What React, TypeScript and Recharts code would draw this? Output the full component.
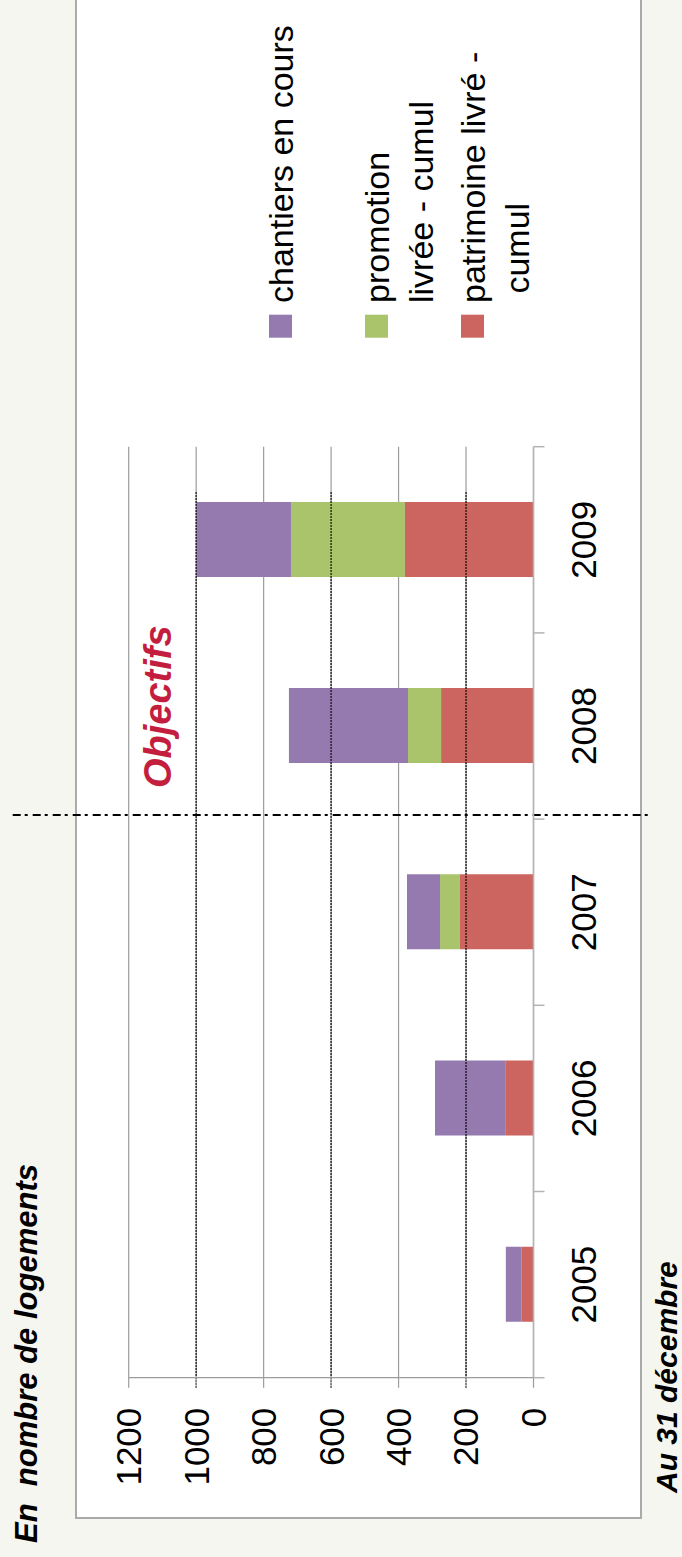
import React from 'react';
import {
    BarChart,
    Bar,
    XAxis,
    YAxis,
    CartesianGrid,
    ReferenceLine
} from 'recharts';

// Chart is drawn "upright" then turned a quarter turn to the left
const W = 1557;
const H = 682;
const FONT = '"Liberation Sans", Arial, Helvetica, sans-serif';

const years = ['2005', '2006', '2007', '2008', '2009'];
const patrimoine = [35, 82, 218, 274, 381];
const promotion = [0, 0, 59, 98, 338];
const chantiers = [47, 210, 98, 353, 281];
const valueTicks = [0, 200, 400, 600, 800, 1000, 1200];
const objectiveLevels = [200, 600, 1000];
const objectiveStartYear = '2007';

const seriesKeys = ['patrimoine', 'promotion', 'chantiers'];
const seriesColors = ['#CC6560', '#A9C46B', '#947AAF'];
const seriesLabels = [
    ['patrimoine livré -', ' cumul'],
    ['promotion', 'livrée - cumul'],
    ['chantiers en cours']
];

const data = years.map((year, i) => ({
    year,
    patrimoine: patrimoine[i],
    promotion: promotion[i],
    chantiers: chantiers[i]
}));

const margin = { top: 128.7, right: 446.7, bottom: 48.5, left: 0 };
const Y_AXIS_W = 179.3;
const BAND = (W - margin.left - margin.right - Y_AXIS_W) / years.length;

const CategoryTick = (props: any) => {
    const { x, y, payload, index } = props;
    const half = BAND / 2;
    const axisY = y - 27 - 11;
    return (
        <g>
            <line x1={x - half} x2={x - half} y1={axisY} y2={axisY + 11} stroke="#b3b3b3" strokeWidth={1.5} />
            {index === years.length - 1 && (
                <line x1={x + half} x2={x + half} y1={axisY} y2={axisY + 11} stroke="#b3b3b3" strokeWidth={1.5} />
            )}
            <text x={x} y={y} dy="0.71em" textAnchor="middle" fontSize={35} fill="#000" fontFamily={FONT}>
                {payload.value}
            </text>
        </g>
    );
};

const DottedLine = (props: any) => (
    <line x1={Math.min(props.x1, props.x2) - 10} x2={Math.max(props.x1, props.x2) - 45} y1={props.y1} y2={props.y2}
        stroke="#000" strokeWidth={1.5} strokeDasharray="1.5 1.5" />
);

const DashDotLine = (props: any) => {
    const top = Math.min(props.y1, props.y2);
    const bottom = Math.max(props.y1, props.y2);
    return (
        <line x1={props.x1 + 4} x2={props.x2 + 4} y1={top - 116} y2={bottom + 116}
            stroke="#000" strokeWidth={2} strokeDasharray="8 4 3 5" />
    );
};

const App: React.FC = () => {
    const legendOrder = [2, 1, 0];
    return (
        <div style={{ position: 'absolute', left: 0, top: 0, width: 682, height: 1557, overflow: 'hidden', background: '#f6f6f0' }}>
            <div style={{
                position: 'absolute', left: 0, top: 0, width: W, height: H,
                transformOrigin: '0 0', transform: `translateY(${W}px) rotate(-90deg)`, fontFamily: FONT
            }}>
                {/* white frame */}
                <div style={{
                    position: 'absolute', left: 38, top: 75, width: 1600, height: 567,
                    boxSizing: 'border-box', border: '2px solid #aaaaaa', background: '#fff'
                }} />

                <div style={{ position: 'absolute', left: 0, top: 0 }}>
                    <BarChart width={W} height={H} data={data} margin={margin}>
                        <CartesianGrid vertical={false} stroke="#9c9c9c" strokeWidth={1.2} />
                        <XAxis
                            dataKey="year"
                            height={100}
                            interval={0}
                            tickLine={false}
                            tickSize={11}
                            tickMargin={27}
                            axisLine={{ stroke: '#b3b3b3', strokeWidth: 1.5 }}
                            tick={<CategoryTick />}
                        />
                        <YAxis
                            width={Y_AXIS_W}
                            domain={[0, 1200]}
                            ticks={valueTicks}
                            interval={0}
                            tickSize={10}
                            tickMargin={20}
                            axisLine={{ stroke: '#9c9c9c', strokeWidth: 1.2 }}
                            tickLine={{ stroke: '#9c9c9c', strokeWidth: 1.2 }}
                            tick={{ fontSize: 35, fill: '#000', fontFamily: FONT }}
                        />
                        {seriesKeys.map((key, i) => (
                            <Bar key={key} dataKey={key} stackId="a" fill={seriesColors[i]} barSize={75} isAnimationActive={false} />
                        ))}
                        {objectiveLevels.map((level) => (
                            <ReferenceLine key={level} y={level} shape={<DottedLine />} />
                        ))}
                        <ReferenceLine x={objectiveStartYear} position="end" ifOverflow="visible" shape={<DashDotLine />} />
                    </BarChart>
                </div>

                <svg width={W} height={H} style={{ position: 'absolute', left: 0, top: 0, pointerEvents: 'none' }}>
                    <text x={14} y={36.5} fontSize={31} fontWeight="bold" fontStyle="italic" fill="#000" style={{ whiteSpace: 'pre' }}>
                        En  nombre de logements
                    </text>
                    <text x={64} y={677} fontSize={30} fontWeight="bold" fontStyle="italic" fill="#000">
                        Au 31 décembre
                    </text>
                    <text x={769} y={171} fontSize={38} fontWeight="bold" fontStyle="italic" fill="#C41E3F">
                        Objectifs
                    </text>
                    {legendOrder.map((s, row) => {
                        const top = 269 + row * 96;
                        return (
                            <g key={seriesKeys[s]}>
                                <rect x={1219.3} y={top} width={23} height={23} fill={seriesColors[s]} />
                                {seriesLabels[s].map((line, li) => (
                                    <text key={li} x={1254} y={top + 24 + li * 44} fontSize={34} fill="#000" style={{ whiteSpace: 'pre' }}>
                                        {line}
                                    </text>
                                ))}
                            </g>
                        );
                    })}
                </svg>
            </div>
        </div>
    );
};

export default App;
